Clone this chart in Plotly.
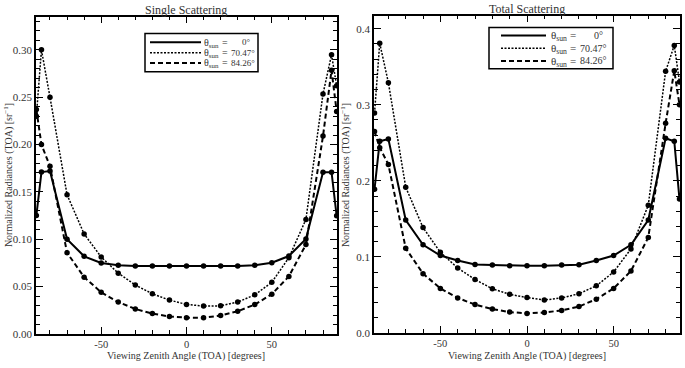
import plotly.graph_objects as go

vza = [-88, -85, -80, -70, -60, -50, -40, -30, -20, -10, 0, 10, 20, 30, 40, 50, 60, 70, 80, 85, 88]

single_0 = [0.125, 0.171, 0.172, 0.100, 0.082, 0.075, 0.0726, 0.0718, 0.0718, 0.0718, 0.0718, 0.0718, 0.0718, 0.0718, 0.0726, 0.0753, 0.0823, 0.1003, 0.1708, 0.1708, 0.1247]
single_70 = [0.230, 0.300, 0.250, 0.147, 0.1056, 0.0813, 0.0642, 0.0517, 0.0424, 0.0358, 0.0312, 0.0295, 0.0297, 0.0337, 0.0413, 0.0545, 0.0806, 0.121, 0.2535, 0.2948, 0.262]
single_84 = [0.237, 0.200, 0.177, 0.0858, 0.060, 0.044, 0.0337, 0.0264, 0.0215, 0.0184, 0.0172, 0.0172, 0.0194, 0.024, 0.031, 0.042, 0.0608, 0.0944, 0.209, 0.2785, 0.235]

total_0 = [0.189, 0.252, 0.255, 0.1485, 0.116, 0.1018, 0.0953, 0.0901, 0.0893, 0.0884, 0.0884, 0.0884, 0.0893, 0.0897, 0.0953, 0.1018, 0.116, 0.1485, 0.256, 0.252, 0.176]
total_70 = [0.289, 0.381, 0.329, 0.1917, 0.1385, 0.106, 0.0854, 0.0703, 0.0581, 0.0508, 0.0465, 0.0434, 0.046, 0.0516, 0.062, 0.0802, 0.1105, 0.168, 0.344, 0.378, 0.330]
total_84 = [0.265, 0.2436, 0.2216, 0.1113, 0.078, 0.0586, 0.046, 0.0374, 0.0314, 0.0275, 0.0257, 0.027, 0.0296, 0.0348, 0.0444, 0.0586, 0.0815, 0.1256, 0.2756, 0.3448, 0.300]

sun_angles = ["0°", "70.47°", "84.26°"]
dashes = ["solid", "2px,1.5px", "5px,3px"]
widths = [2, 1.5, 2]

FONT = "Liberation Serif"
TXT = "#333333"
W, H = 685, 368
def px_x(p): return p / W
def px_y(p): return 1 - p / H

fig = go.Figure()

panels = [("x", "y", [single_0, single_70, single_84]),
          ("x2", "y2", [total_0, total_70, total_84])]
for xa, ya, series in panels:
    for s, d, w, lab in zip(series, dashes, widths, sun_angles):
        fig.add_trace(go.Scatter(x=vza, y=s, xaxis=xa, yaxis=ya, mode="lines+markers",
                                 line=dict(color="black", dash=d, width=w),
                                 marker=dict(color="black", size=5.5),
                                 name="θsun = " + lab, showlegend=False, hoverinfo="skip"))

axis_common = dict(showgrid=False, zeroline=False, showline=True, linecolor="black", linewidth=1.5,
                   mirror="ticks", ticks="inside", tickcolor="black", ticklen=7, tickwidth=1)
yfont = dict(family=FONT, size=11, color=TXT)
xfont = dict(family=FONT, size=10.5, color=TXT)

def ann(text, x, y, size, angle=0, xanchor="center"):
    return dict(text=text, x=px_x(x), y=px_y(y), xref="paper", yref="paper",
                xanchor=xanchor, yanchor="middle", showarrow=False, textangle=angle, borderpad=0,
                font=dict(family=FONT, size=size, color=TXT))

annotations = [
    ann("Single Scattering", 186, 10, 12),
    ann("Total Scattering", 527, 9, 12),
    ann("Viewing Zenith Angle (TOA) [degrees]", 186, 361.5, 10),
    ann("Viewing Zenith Angle (TOA) [degrees]", 527, 361.5, 10),
    ann("Normalized Radiances (TOA) [sr<sup>−1</sup>]", 8, 178, 10, -90),
    ann("Normalized Radiances (TOA) [sr<sup>−1</sup>]", 345, 178, 10, -90),
]
shapes = []

legend_specs = [
    dict(box=(145, 34, 258, 73), line_x=(150, 201), rows=(43, 53.5, 64), theta_x=203, eq_x=225, val_right=256, fs=9),
    dict(box=(489, 28, 613, 70), line_x=(501, 546), rows=(36, 49, 62), theta_x=550, eq_x=573, val_right=608, fs=10),
]
for spec in legend_specs:
    x0, y0, x1, y1 = spec["box"]
    shapes.append(dict(type="rect", xref="paper", yref="paper", x0=px_x(x0), x1=px_x(x1),
                       y0=px_y(y1), y1=px_y(y0), line=dict(color="black", width=1.5), fillcolor="white",
                       layer="above"))
    for ry, d, w, lab in zip(spec["rows"], dashes, widths, sun_angles):
        shapes.append(dict(type="line", xref="paper", yref="paper",
                           x0=px_x(spec["line_x"][0]), x1=px_x(spec["line_x"][1]),
                           y0=px_y(ry), y1=px_y(ry), line=dict(color="black", width=w, dash=d), layer="above"))
        annotations.append(ann("θ<sub>sun</sub>", spec["theta_x"], ry + 1, spec["fs"] + 1, xanchor="left"))
        annotations.append(ann("=", spec["eq_x"], ry, spec["fs"] + 1))
        if lab == "0°":
            annotations.append(ann(lab, spec["val_right"] - 10, ry, spec["fs"]))
        else:
            annotations.append(ann(lab, spec["val_right"], ry, spec["fs"], xanchor="right"))

fig.update_layout(
    width=W, height=H, margin=dict(l=0, r=0, t=0, b=0),
    paper_bgcolor="white", plot_bgcolor="white",
    font=dict(family=FONT, color=TXT), showlegend=False,
    xaxis=dict(domain=[px_x(36), px_x(337)], range=[-88.2, 88.2], tickvals=[-50, 0, 50], ticktext=["-50", "0", "50"],
               tickfont=xfont,
               minor=dict(dtick=10, tick0=0, ticks="inside", ticklen=4, tickcolor="black"), anchor="y", **axis_common),
    yaxis=dict(domain=[px_y(339.5), px_y(17)], range=[0, 0.335], dtick=0.05, tickformat=".2f", tickfont=yfont,
               minor=dict(dtick=0.01, ticks="inside", ticklen=4, tickcolor="black"), anchor="x", **axis_common),
    xaxis2=dict(domain=[px_x(374), px_x(680)], range=[-88.3, 88.3], tickvals=[-50, 0, 50], ticktext=["-50", "0", "50"],
                tickfont=xfont,
                minor=dict(dtick=10, tick0=0, ticks="inside", ticklen=4, tickcolor="black"), anchor="y2", **axis_common),
    yaxis2=dict(domain=[px_y(338.5), px_y(16)], range=[0, 0.417], dtick=0.1, tickformat=".1f", tickfont=yfont,
                minor=dict(dtick=0.02, ticks="inside", ticklen=4, tickcolor="black"), anchor="x2", **axis_common),
    annotations=annotations,
    shapes=shapes,
)

fig.write_html("out.html")
